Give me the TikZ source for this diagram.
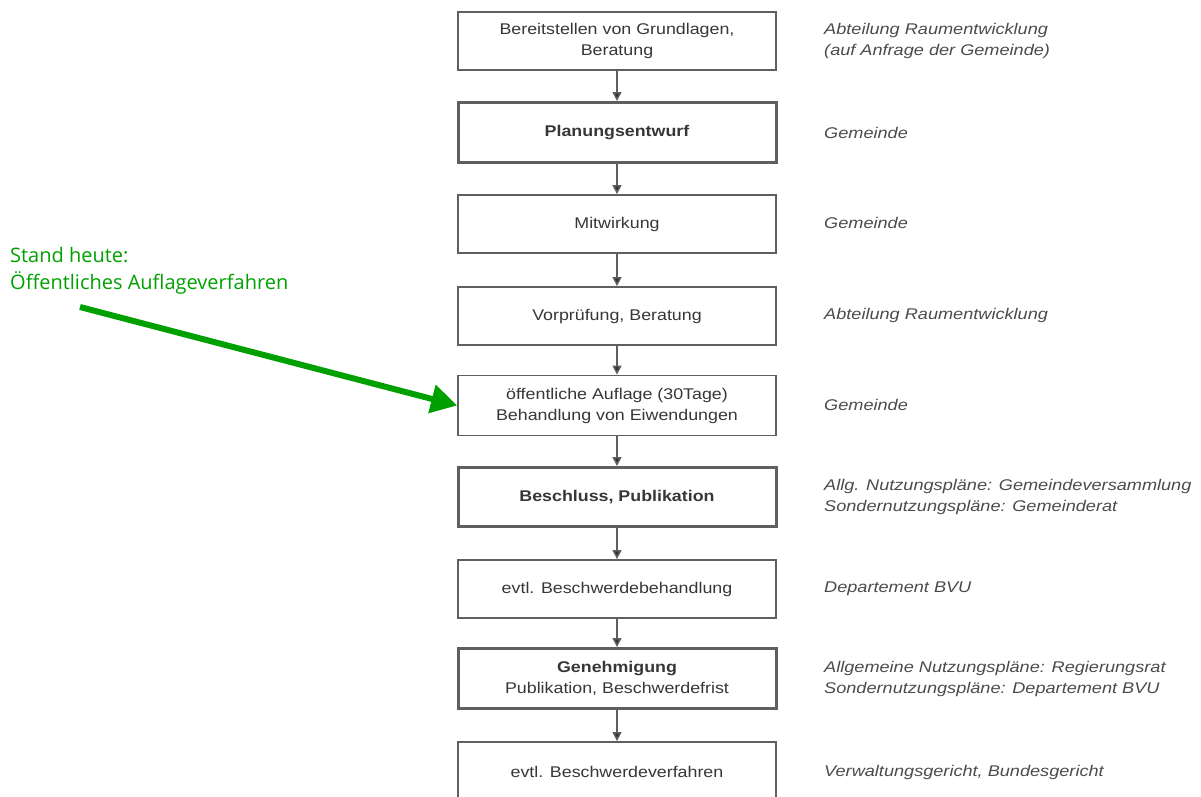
\documentclass[tikz,border=0pt]{standalone}
\usepackage{fontspec}
\setmainfont{Liberation Sans}
\newfontfamily\boxfont[FakeStretch=1.15]{Liberation Sans}
\newfontfamily\notefont[FakeStretch=1.17]{Liberation Sans}
\newfontfamily\greenfont{Open Sans}
\usetikzlibrary{arrows.meta}
\definecolor{boxline}{RGB}{95,95,95}
\definecolor{boxtext}{RGB}{55,55,55}
\definecolor{notetext}{RGB}{75,75,75}
\definecolor{arrowdark}{RGB}{50,50,50}
\definecolor{markgreen}{RGB}{0,160,0}
\tikzset{
  stepbox/.style={draw=boxline, line width=1.8pt, fill=white, minimum width=318pt,
    minimum height=58pt, align=center, inner sep=0pt, text=boxtext,
    font=\boxfont\fontsize{15.5}{21}\selectfont},
  keybox/.style={stepbox, line width=3pt},
  note/.style={anchor=west, align=left, inner sep=0pt, text=notetext,
    font=\notefont\itshape\fontsize{15.5}{21.5}\selectfont},
  flow/.style={draw=boxline, line width=1.5pt, -{Triangle[length=9pt,width=9pt,fill=arrowdark]}},
  greentext/.style={anchor=north west, align=left, inner sep=0pt, text=markgreen,
    font=\greenfont\fontsize{20}{27}\selectfont},
  greenarrow/.style={draw=markgreen, line width=6pt, -{Triangle[length=26pt,width=28pt]}}
}
\begin{document}
\begin{tikzpicture}[x=1pt,y=-1pt]
\clip (0,0) rectangle (1201,796);
\path[use as bounding box] (0,0) rectangle (1201,796);

\node[stepbox] (b1) at (617,41) {Bereitstellen von Grundlagen,\\Beratung};
\node[keybox, minimum height=60pt] (b2) at (617,132.5) {\bfseries Planungsentwurf};
\node[stepbox] (b3) at (617,224) {Mitwirkung};
\node[stepbox] (b4) at (617,316) {Vorprüfung, Beratung};
\node[stepbox, minimum height=60pt] (b5) at (617,405.5) {öffentliche Auflage (30Tage)\\Behandlung von Eiwendungen};
\node[keybox, minimum height=59pt] (b6) at (617,497) {\bfseries Beschluss, Publikation};
\node[stepbox] (b7) at (617,589) {evtl. Beschwerdebehandlung};
\node[keybox, minimum height=60pt] (b8) at (617,678.5) {{\bfseries Genehmigung}\\Publikation, Beschwerdefrist};
\node[stepbox, minimum height=60pt] (b9) at (617,772) {evtl. Beschwerdeverfahren};

\foreach \a/\b in {b1/b2,b2/b3,b3/b4,b4/b5,b5/b6,b6/b7,b7/b8,b8/b9}
  \draw[flow] (\a.south) -- (\b.north);

\node[note] (n1) at (824,41) {Abteilung Raumentwicklung\\(auf Anfrage der Gemeinde)};
\node[note] (n2) at (824,133) {Gemeinde};
\node[note] (n3) at (824,223) {Gemeinde};
\node[note] (n4) at (824,315) {Abteilung Raumentwicklung};
\node[note] (n5) at (824,405) {Gemeinde};
\node[note] (n6) at (824,497) {Allg. Nutzungspläne: Gemeindeversammlung\\Sondernutzungspläne: Gemeinderat};
\node[note] (n7) at (824,589) {Departement BVU};
\node[note] (n8) at (824,679) {Allgemeine Nutzungspläne: Regierungsrat\\Sondernutzungspläne: Departement BVU};
\node[note] (n9) at (824,772) {Verwaltungsgericht, Bundesgericht};

\node[greentext] (g) at (10,247) {Stand heute:\\Öffentliches Auflageverfahren};
\coordinate (gtail) at (80,307);
\draw[greenarrow] (gtail) -- (b5.west);
\end{tikzpicture}
\end{document}
